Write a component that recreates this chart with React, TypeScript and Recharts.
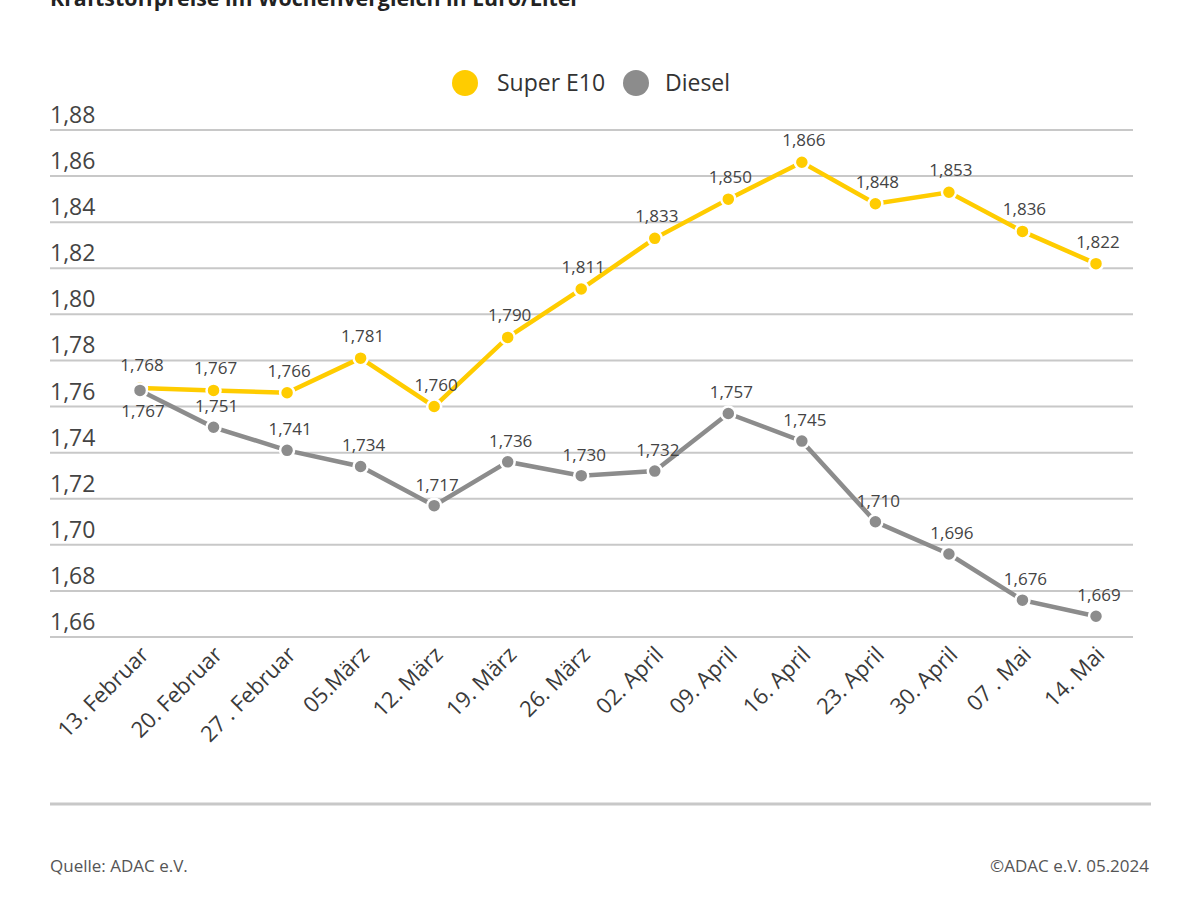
import React from 'react';
import { LineChart, Line, XAxis, YAxis, CartesianGrid, LabelList } from 'recharts';

const categories = [
  '13. Februar', '20. Februar', '27 . Februar', '05.März', '12. März', '19. März', '26. März',
  '02. April', '09. April', '16. April', '23. April', '30. April', '07 . Mai', '14. Mai',
];
const superE10 = [1.768, 1.767, 1.766, 1.781, 1.76, 1.79, 1.811, 1.833, 1.85, 1.866, 1.848, 1.853, 1.836, 1.822];
const diesel = [1.767, 1.751, 1.741, 1.734, 1.717, 1.736, 1.73, 1.732, 1.757, 1.745, 1.71, 1.696, 1.676, 1.669];
const yTicks = [1.66, 1.68, 1.7, 1.72, 1.74, 1.76, 1.78, 1.8, 1.82, 1.84, 1.86, 1.88];

const TITLE = 'Kraftstoffpreise im Wochenvergleich in Euro/Liter';
const SERIES_E10 = 'Super E10';
const SERIES_DIESEL = 'Diesel';
const SOURCE = 'Quelle: ADAC e.V.';
const COPYRIGHT = '©ADAC e.V. 05.2024';

const YELLOW = '#FFCC00';
const GREY = '#8C8C8C';
const FONT = '"Open Sans", "Noto Sans", "DejaVu Sans", sans-serif';

const data = categories.map((name, i) => ({ name, e10: superE10[i], diesel: diesel[i] }));

const fmt = (v: number, d: number) => v.toFixed(d).replace('.', ',');

const YTick = (props: any) => {
  const { y, payload } = props;
  return (
    <text x={50} y={y - 7} textAnchor="start" fontSize={23} fill="#444" fontFamily={FONT}>
      {fmt(payload.value, 2)}
    </text>
  );
};

const XTick = (props: any) => {
  const { x, y, payload } = props;
  return (
    <g transform={`translate(${x + 10},${y + 11})`}>
      <text x={0} y={0} textAnchor="end" transform="rotate(-45)" fontSize={22} fill="#3a3a3a" fontFamily={FONT}>
        {payload.value}
      </text>
    </g>
  );
};

const E10Label = (props: any) => {
  const { x, y, value, index } = props;
  return (
    <text x={x + 2} y={y - 16 - (index === 0 ? 1 : 0)} textAnchor="middle" fontSize={17} fill="#444" fontFamily={FONT}>
      {fmt(value, 3)}
    </text>
  );
};

const DieselLabel = (props: any) => {
  const { x, y, value, index } = props;
  const dy = index === 0 ? 27 : -15;
  return (
    <text x={x + 3} y={y + dy} textAnchor="middle" fontSize={17} fill="#444" fontFamily={FONT}>
      {fmt(value, 3)}
    </text>
  );
};

export default function App() {
  return (
    <div style={{ position: 'absolute', left: 0, top: 0, width: 1200, height: 900, background: '#fff', fontFamily: FONT, overflow: 'hidden' }}>
      <svg width={1200} height={40} style={{ position: 'absolute', left: 0, top: 0 }}>
        <text x={50} y={6} fontSize={22} fontWeight={700} fill="#222" fontFamily={FONT} textLength={530} lengthAdjust="spacingAndGlyphs">
          {TITLE}
        </text>
      </svg>

      <div style={{ position: 'absolute', left: 0, top: 66, width: 1200, height: 36 }}>
        <svg width={1200} height={36}>
          <circle cx={465} cy={17} r={13} fill={YELLOW} />
          <text x={497} y={25} fontSize={23} fill="#333" fontFamily={FONT}>{SERIES_E10}</text>
          <circle cx={636} cy={17} r={13} fill={GREY} />
          <text x={665} y={25} fontSize={23} fill="#333" fontFamily={FONT}>{SERIES_DIESEL}</text>
        </svg>
      </div>

      <div style={{ position: 'absolute', left: 0, top: 0 }}>
        <LineChart width={1200} height={900} data={data} margin={{ top: 130, right: 67, bottom: 233, left: 0 }}>
          <CartesianGrid vertical={false} stroke="#C8C8C8" strokeWidth={2} />
          <XAxis
            dataKey="name"
            interval={0}
            tickLine={false}
            axisLine={false}
            height={30}
            padding={{ left: 90, right: 37 }}
            tick={<XTick />}
          />
          <YAxis
            domain={[1.66, 1.88]}
            ticks={yTicks}
            interval={0}
            width={50}
            tickLine={false}
            axisLine={false}
            tick={<YTick />}
            allowDataOverflow
          />
          <Line
            type="linear"
            dataKey="e10"
            stroke={YELLOW}
            strokeWidth={4.5}
            dot={{ r: 7, fill: YELLOW, stroke: '#fff', strokeWidth: 2.5 }}
            isAnimationActive={false}
          >
            <LabelList dataKey="e10" content={<E10Label />} />
          </Line>
          <Line
            type="linear"
            dataKey="diesel"
            stroke={GREY}
            strokeWidth={4.5}
            dot={{ r: 7, fill: GREY, stroke: '#fff', strokeWidth: 2.5 }}
            isAnimationActive={false}
          >
            <LabelList dataKey="diesel" content={<DieselLabel />} />
          </Line>
        </LineChart>
      </div>

      <svg width={1200} height={900} style={{ position: 'absolute', left: 0, top: 0, pointerEvents: 'none' }}>
        <line x1={50} x2={1151} y1={804} y2={804} stroke="#C8C8C8" strokeWidth={3} />
        <text x={50} y={872} fontSize={17} fill="#555" fontFamily={FONT}>{SOURCE}</text>
        <text x={1149} y={872} fontSize={17} fill="#555" fontFamily={FONT} textAnchor="end">{COPYRIGHT}</text>
      </svg>
    </div>
  );
}
